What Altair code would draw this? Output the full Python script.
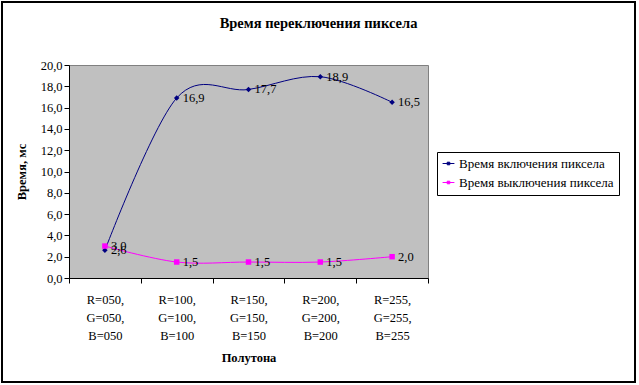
import altair as alt
import pandas as pd

categories = ["R=050,|G=050,|B=050", "R=100,|G=100,|B=100", "R=150,|G=150,|B=150",
              "R=200,|G=200,|B=200", "R=255,|G=255,|B=255"]
series_names = ["Время включения пиксела", "Время выключения пиксела"]
on_values = [2.6, 16.9, 17.7, 18.9, 16.5]
off_values = [3.0, 1.5, 1.5, 1.5, 2.0]
colors = ["#000080", "#FF00FF"]
shapes = ["diamond", "square"]

rows = []
for c, v in zip(categories, on_values):
    rows.append({"cat": c, "series": series_names[0], "value": v})
for c, v in zip(categories, off_values):
    rows.append({"cat": c, "series": series_names[1], "value": v})
df = pd.DataFrame(rows)
df["label"] = df["value"].map(lambda v: f"{v:.1f}".replace(".", ","))
df["marker"] = df["series"] + " "

FONT = "Liberation Serif"

x = alt.X("cat:N", sort=categories, bandPosition=0.5,
          scale=alt.Scale(type="band", paddingInner=0, paddingOuter=0),
          axis=alt.Axis(title="Полутона", labelExpr="split(datum.label, '|')",
                        labelAngle=0, tickBand="extent", labelPadding=10,
                        labelLineHeight=18, titlePadding=10, labelFontSize=12.5,
                        titleFontSize=12.5, titleFontWeight="bold"))
y = alt.Y("value:Q", scale=alt.Scale(domain=[0, 20]),
          axis=alt.Axis(title="Время, мс", values=list(range(0, 21, 2)),
                        labelExpr="replace(format(datum.value, '.1f'), '.', ',')",
                        titleFontWeight="bold", titleFontSize=12.5, labelFontSize=12.5,
                        titlePadding=12))
color = alt.Color("series:N", sort=series_names,
                  scale=alt.Scale(domain=series_names, range=colors),
                  legend=alt.Legend(title=None, orient="none", legendX=368, legendY=87,
                                    fillColor="white", strokeColor="black", padding=5,
                                    labelFontSize=13, labelFont=FONT, rowPadding=5,
                                    symbolType="M-1,0H1M-0.22,-0.22H0.22V0.22H-0.22Z",
                                    symbolSize=140, symbolStrokeWidth=1, labelOffset=4))

base = alt.Chart(df)
line = base.mark_line(interpolate="cardinal", tension=0, strokeWidth=1).encode(x=x, y=y, color=color)
points = base.mark_point(filled=True, size=30, opacity=1).encode(
    x=x, y=y, color=color,
    shape=alt.Shape("marker:N", scale=alt.Scale(range=shapes), legend=None))
labels = base.mark_text(align="left", baseline="middle", dx=6, fontSize=12.5, font=FONT,
                        color="black").encode(x=x, y=y, text="label:N")
border = alt.Chart(df).mark_rect(fill=None, stroke="black", strokeWidth=2, clip=False).encode(
    x=alt.value(-67), x2=alt.value(566), y=alt.value(-63), y2=alt.value(317))

chart = alt.layer(line, points, labels, border).properties(
    width=359, height=213,
    title=alt.TitleParams("Время переключения пиксела", fontSize=14.5, font=FONT,
                          fontWeight="bold", anchor="middle", dx=70, offset=-30),
    autosize=alt.AutoSizeParams(type="none"),
    padding={"left": 69, "top": 65, "right": 211, "bottom": 107},
).configure(background="white", font=FONT).configure_view(
    fill="#C0C0C0", stroke="#808080"
).configure_axis(
    domainColor="black", tickColor="black", labelColor="black", titleColor="black",
    labelFont=FONT, titleFont=FONT, tickSize=5, grid=False
)

chart.save("out.html", embed_options={"renderer": "svg", "actions": False})
